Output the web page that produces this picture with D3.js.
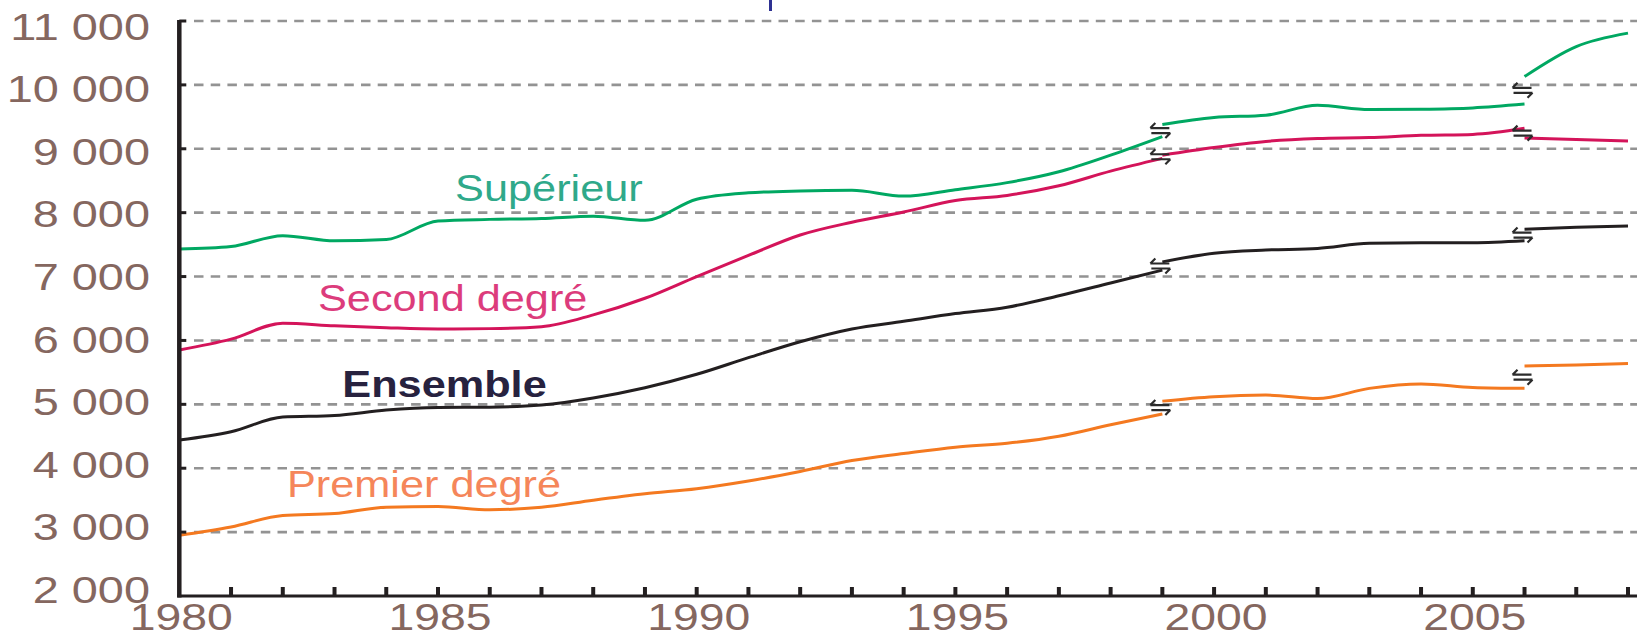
<!DOCTYPE html>
<html>
<head>
<meta charset="utf-8">
<script src="https://cdn.jsdelivr.net/npm/d3@7"></script>
<style>
  body { margin: 0; background: #fff; }
  svg { display: block; }
</style>
</head>
<body>
<script>
// years of the three parts of each series (breaks in 1999 and 2006)
var yearsA = [1980, 1981, 1982, 1983, 1984, 1985, 1986, 1987, 1988, 1989,
              1990, 1991, 1992, 1993, 1994, 1995, 1996, 1997, 1998, 1999];
var yearsB = [1999, 2000, 2001, 2002, 2003, 2004, 2005, 2006];
var yearsC = [2006, 2007, 2008];

var superieurA = [7430, 7470, 7640, 7560, 7580, 7870, 7895, 7910, 7945, 7880,
                  8210, 8310, 8340, 8350, 8260, 8360, 8470, 8640, 8900, 9190];
var superieurB = [9380, 9490, 9525, 9680, 9615, 9620, 9640, 9700];
var superieurC = [10130, 10600, 10810];

var secondA = [5850, 6020, 6270, 6230, 6200, 6180, 6185, 6215, 6400, 6660,
               7000, 7330, 7650, 7850, 8010, 8190, 8270, 8420, 8650, 8850];
var secondB = [8900, 9020, 9115, 9160, 9175, 9210, 9225, 9320];
var secondC = [9170, 9145, 9120];

var ensembleA = [4440, 4570, 4800, 4825, 4910, 4950, 4955, 4990, 5100, 5260,
                 5470, 5730, 5980, 6180, 6300, 6420, 6520, 6700, 6900, 7100];
var ensembleB = [7230, 7365, 7415, 7440, 7520, 7530, 7530, 7560];
var ensembleC = [7740, 7770, 7790];

var premierA = [2950, 3080, 3260, 3290, 3390, 3400, 3350, 3390, 3500, 3600,
                3680, 3800, 3950, 4120, 4230, 4330, 4390, 4500, 4680, 4850];
var premierB = [5050, 5120, 5145, 5090, 5250, 5320, 5265, 5250];
var premierC = [5600, 5615, 5640];

var yTicks = [2000, 3000, 4000, 5000, 6000, 7000, 8000, 9000, 10000, 11000];
var xLabelYears = [1980, 1985, 1990, 1995, 2000, 2005];
var breakYears = [1999, 2006];

var width = 1637, height = 638;
var font = "'Liberation Sans', Arial, Helvetica, sans-serif";

var x = d3.scaleLinear().domain([1980, 2008]).range([179.3, 1628]);
var y = d3.scaleLinear().domain([2000, 11000]).range([596, 21]);
// tick label baselines sit on a slightly tighter scale than the grid
var yLab = d3.scaleLinear().domain([2000, 11000]).range([603, 39.5]);

function zip(yrs, vals) {
    return yrs.map(function (yr, i) { return [yr, vals[i]] })
}

var series = [
    { name: 'Supérieur', color: '#00a862', text: '#2fa98a', bold: false,
      parts: [zip(yearsA, superieurA), zip(yearsB, superieurB), zip(yearsC, superieurC)],
      lx: 1985.33, ly: 8182 },
    { name: 'Second degré', color: '#d4145a', text: '#dc3c7c', bold: false,
      parts: [zip(yearsA, secondA), zip(yearsB, secondB), zip(yearsC, secondC)],
      lx: 1982.68, ly: 6461 },
    { name: 'Ensemble', color: '#231f20', text: '#27223f', bold: true,
      parts: [zip(yearsA, ensembleA), zip(yearsB, ensembleB), zip(yearsC, ensembleC)],
      lx: 1983.15, ly: 5115 },
    { name: 'Premier degré', color: '#f47920', text: '#f5865a', bold: false,
      parts: [zip(yearsA, premierA), zip(yearsB, premierB), zip(yearsC, premierC)],
      lx: 1982.08, ly: 3550 }
];

var svg = d3.select('body')
    .append('svg')
    .attr('width', width)
    .attr('height', height)

// cropped piece of the title above the chart
svg.append('rect')
    .attr('x', 769).attr('y', 0)
    .attr('width', 3).attr('height', 11)
    .attr('fill', '#2e3192')

// dashed grid
svg.selectAll('.grid')
    .data(yTicks.slice(1))
    .enter().append('line')
    .attr('class', 'grid')
    .attr('x1', 194).attr('x2', width)
    .attr('y1', function (d) { return y(d) })
    .attr('y2', function (d) { return y(d) })
    .attr('stroke', '#939393')
    .attr('stroke-width', 2.6)
    .attr('stroke-dasharray', '9.5 7.2')

// y tick labels
svg.selectAll('.ylab')
    .data(yTicks)
    .enter().append('text')
    .attr('class', 'ylab')
    .attr('transform', function (d) { return 'translate(150,' + yLab(d) + ') scale(1.25,1)' })
    .attr('text-anchor', 'end')
    .attr('font-family', font)
    .attr('font-size', 37.5)
    .attr('fill', '#85675f')
    .text(function (d) { return d3.format(',')(d).replace(',', ' ') })

// x tick labels
svg.selectAll('.xlab')
    .data(xLabelYears)
    .enter().append('text')
    .attr('class', 'xlab')
    .attr('transform', function (d) { return 'translate(' + (x(d) + 2) + ',630) scale(1.27,1)' })
    .attr('text-anchor', 'middle')
    .attr('font-family', font)
    .attr('font-size', 36.5)
    .attr('fill', '#85675f')
    .text(function (d) { return d })

// lines
var line = d3.line()
    .x(function (d) { return x(d[0]) })
    .y(function (d) { return y(d[1]) })
    .curve(d3.curveMonotoneX)

series.forEach(function (s) {
    svg.append('g').selectAll('path')
        .data(s.parts)
        .enter().append('path')
        .attr('d', line)
        .attr('fill', 'none')
        .attr('stroke', s.color)
        .attr('stroke-width', 3)
        .attr('stroke-linejoin', 'round')

    // break markers between the parts
    breakYears.forEach(function (yr, i) {
        var before = s.parts[i][s.parts[i].length - 1][1]
        var after = s.parts[i + 1][0][1]
        svg.append('path')
            .attr('transform', 'translate(' + (x(yr) - 2) + ',' + y((before + after) / 2) + ')')
            .attr('d', 'M-10,-2.5H9M-10,-2.5l5,-5M10,2.5H-9M10,2.5l-5,5')
            .attr('fill', 'none')
            .attr('stroke', '#2b2b2b')
            .attr('stroke-width', 2.2)
    })

    svg.append('text')
        .attr('transform', 'translate(' + x(s.lx) + ',' + y(s.ly) + ') scale(1.17,1)')
        .attr('font-family', font)
        .attr('font-size', 37)
        .attr('font-weight', s.bold ? 'bold' : 'normal')
        .attr('fill', s.text)
        .text(s.name)
})

// axes
var axisColor = '#231f20'
svg.append('line')
    .attr('x1', x(1980) - 2).attr('x2', width)
    .attr('y1', y(2000)).attr('y2', y(2000))
    .attr('stroke', axisColor).attr('stroke-width', 3)

svg.append('line')
    .attr('x1', x(1980)).attr('x2', x(1980))
    .attr('y1', 20).attr('y2', y(2000) + 1.5)
    .attr('stroke', axisColor).attr('stroke-width', 4.5)

svg.selectAll('.xtick')
    .data(d3.range(1981, 2009))
    .enter().append('line')
    .attr('class', 'xtick')
    .attr('x1', function (d) { return x(d) })
    .attr('x2', function (d) { return x(d) })
    .attr('y1', y(2000)).attr('y2', y(2000) - 9)
    .attr('stroke', axisColor).attr('stroke-width', 4)

svg.selectAll('.ytick')
    .data(yTicks.slice(1))
    .enter().append('line')
    .attr('class', 'ytick')
    .attr('x1', x(1980)).attr('x2', x(1980) + 7)
    .attr('y1', function (d) { return y(d) })
    .attr('y2', function (d) { return y(d) })
    .attr('stroke', axisColor).attr('stroke-width', 3)
</script>
</body>
</html>
